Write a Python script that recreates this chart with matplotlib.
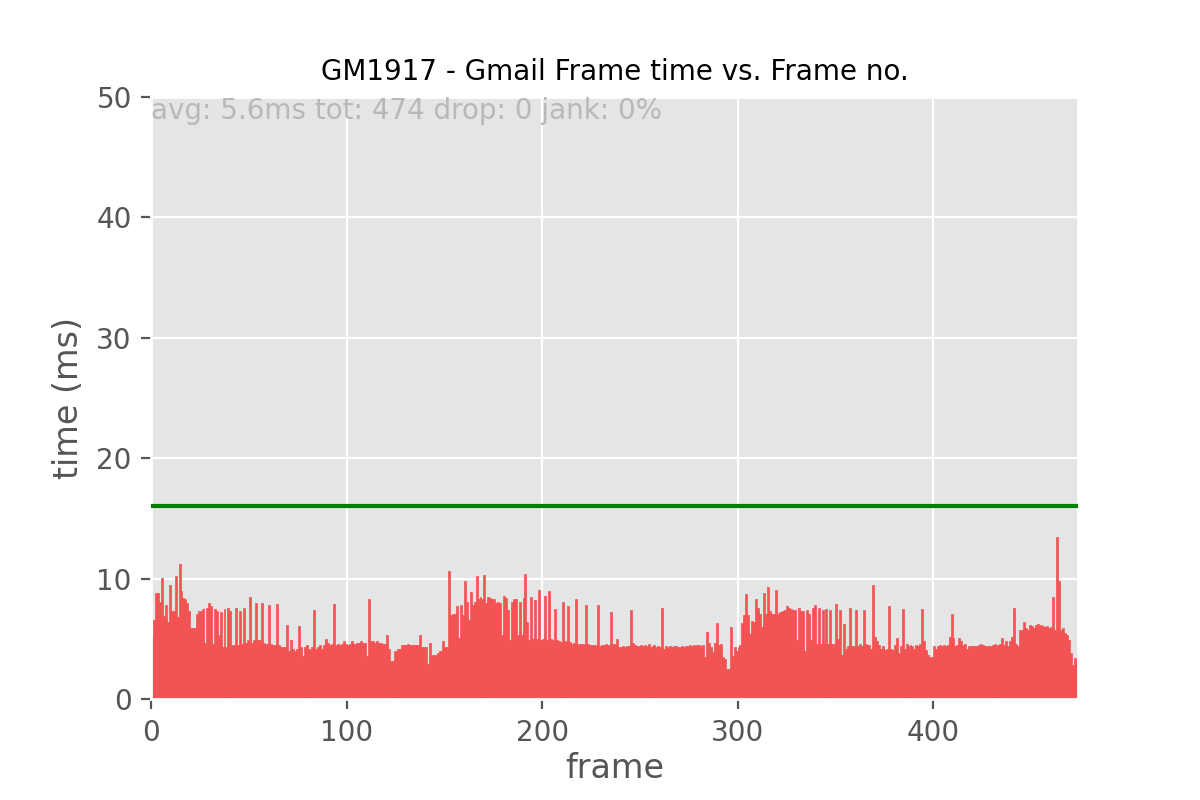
import matplotlib
matplotlib.use("Agg")
import matplotlib.pyplot as plt

plt.style.use("ggplot")

title = "GM1917 - Gmail Frame time vs. Frame no."
stats_text = "avg: 5.6ms tot: 474 drop: 0 jank: 0%"
x_label = "frame"
y_label = "time (ms)"
threshold_ms = 16.0
x_ticks = [0, 100, 200, 300, 400]
y_ticks = [0, 10, 20, 30, 40, 50]

frame_times = [
    5.2, 6.6, 8.8, 8.8, 8.1, 10.1, 6.9, 7.8, 6.4, 9.5,
    7.3, 7.3, 10.2, 6.8, 11.2, 9.0, 8.4, 8.3, 8.0, 7.3,
    5.9, 5.9, 5.9, 7.1, 7.3, 7.3, 7.5, 4.7, 7.6, 8.0,
    7.7, 4.6, 7.5, 7.3, 5.3, 7.2, 4.3, 7.5, 4.3, 7.6,
    7.3, 4.5, 4.5, 7.6, 4.5, 7.3, 4.6, 7.6, 4.7, 4.9,
    8.5, 4.7, 4.9, 8.0, 4.9, 4.9, 8.0, 4.7, 4.6, 4.6,
    7.8, 4.6, 4.5, 4.5, 7.9, 4.5, 4.3, 4.3, 4.3, 6.2,
    4.0, 4.9, 4.2, 4.0, 4.2, 6.1, 4.3, 3.6, 4.3, 4.5,
    4.2, 4.0, 4.3, 7.4, 4.2, 4.3, 4.5, 4.2, 4.5, 5.0,
    4.7, 4.5, 4.6, 7.9, 4.5, 4.6, 4.5, 4.6, 4.8, 4.6,
    4.5, 4.6, 4.8, 4.6, 4.6, 4.7, 4.7, 4.8, 4.7, 4.7,
    3.6, 8.3, 4.8, 4.8, 4.7, 4.8, 4.7, 4.7, 4.6, 4.6,
    5.3, 4.2, 3.2, 3.2, 4.0, 4.0, 4.2, 4.2, 4.5, 4.5,
    4.5, 4.6, 4.5, 4.5, 4.5, 4.5, 4.5, 5.3, 4.3, 4.3,
    4.3, 2.9, 4.7, 3.7, 3.7, 3.7, 3.8, 4.0, 4.0, 4.8,
    4.3, 4.3, 10.6, 7.0, 7.1, 7.1, 7.7, 5.1, 7.8, 7.0,
    9.8, 8.1, 6.6, 8.9, 7.8, 8.1, 10.2, 8.3, 8.5, 8.3,
    10.3, 8.0, 8.5, 8.4, 8.3, 8.3, 8.0, 8.1, 8.0, 5.3,
    8.6, 8.4, 7.4, 4.9, 8.1, 8.3, 8.3, 5.3, 8.1, 5.3,
    8.4, 10.4, 6.4, 4.9, 8.5, 5.0, 8.2, 5.0, 9.1, 4.9,
    5.0, 8.6, 4.9, 9.0, 5.0, 4.9, 7.5, 4.9, 4.8, 4.75,
    8.1, 4.8, 4.75, 7.7, 4.75, 4.6, 4.7, 8.3, 4.6, 4.6,
    4.55, 4.55, 7.8, 4.55, 4.5, 4.5, 4.5, 4.5, 7.8, 4.4,
    4.5, 4.5, 4.55, 4.5, 4.5, 7.2, 4.6, 4.6, 5.0, 4.3,
    4.3, 4.4, 4.3, 4.4, 4.4, 7.4, 4.7, 4.5, 4.4, 4.4,
    4.5, 4.4, 4.5, 4.4, 4.6, 4.3, 4.4, 4.5, 4.3, 4.4,
    4.3, 7.6, 4.2, 4.4, 4.3, 4.4, 4.3, 4.4, 4.4, 4.3,
    4.3, 4.4, 4.3, 4.4, 4.4, 4.5, 4.4, 4.5, 4.4, 4.5,
    4.5, 4.4, 4.5, 3.5, 5.6, 4.7, 4.3, 3.9, 4.7, 6.3,
    4.5, 4.6, 3.5, 3.3, 2.5, 2.5, 6.0, 3.6, 4.3, 4.0,
    4.3, 4.5, 6.3, 7.0, 8.7, 7.0, 5.4, 6.5, 6.4, 8.3,
    7.6, 7.1, 6.0, 8.8, 7.1, 9.3, 7.3, 7.1, 7.1, 9.1,
    7.1, 7.2, 7.2, 7.3, 7.4, 7.7, 7.6, 7.5, 7.4, 7.4,
    4.9, 7.6, 7.3, 7.3, 4.0, 7.4, 7.1, 4.9, 7.6, 7.8,
    4.6, 7.6, 4.6, 7.4, 4.6, 7.5, 4.6, 7.4, 4.6, 4.6,
    7.9, 5.0, 7.4, 3.7, 6.25, 4.2, 4.4, 7.6, 4.4, 4.4,
    7.4, 4.4, 4.6, 4.4, 7.4, 4.6, 4.5, 4.5, 4.2, 9.5,
    5.2, 4.8, 4.5, 4.2, 4.4, 4.1, 4.2, 7.75, 4.2, 4.1,
    4.5, 5.05, 3.8, 4.4, 7.5, 4.2, 4.6, 4.4, 4.5, 4.4,
    4.2, 4.5, 4.4, 4.6, 7.5, 4.8, 4.1, 3.7, 3.5, 3.5,
    4.4, 4.2, 4.4, 4.5, 4.4, 4.5, 4.4, 4.5, 5.2, 7.1,
    5.05, 4.4, 4.5, 5.1, 4.8, 4.5, 4.6, 4.2, 4.4, 4.4,
    4.4, 4.4, 4.4, 4.5, 4.6, 4.5, 4.4, 4.4, 4.4, 4.4,
    4.5, 4.6, 4.4, 4.5, 4.6, 5.1, 4.5, 4.8, 4.4, 4.8,
    5.2, 7.55, 4.6, 4.4, 5.75, 5.75, 6.4, 5.9, 5.75, 6.2,
    6.1, 5.9, 6.2, 6.25, 6.0, 6.2, 6.1, 6.0, 6.1, 5.9,
    6.0, 8.5, 5.75, 13.5, 9.8, 5.75, 5.9, 5.5, 5.3, 4.9,
    3.8, 2.8, 3.4, 3.2,
]
frames = list(range(len(frame_times)))

fig = plt.figure(figsize=(6, 4), dpi=200)
ax = fig.add_axes([0.126, 0.126, 0.772, 0.753])

ax.bar(frames, frame_times, width=1.0, align="edge", color="#f65454",
       edgecolor="#f05050", linewidth=0.25, zorder=2)
ax.axhline(threshold_ms, color="green", linewidth=1.5, zorder=3)

ax.set_xlim(0, len(frame_times))
ax.set_ylim(0, 50)
ax.set_xticks(x_ticks)
ax.set_yticks(y_ticks)
ax.tick_params(labelsize=10)
ax.set_title(title, fontsize=10, color="black")
ax.set_xlabel(x_label, fontsize=12, labelpad=2)
ax.set_ylabel(y_label, fontsize=12, labelpad=4)
ax.text(0, 50, stats_text, ha="left", va="top", fontsize=10,
        color="#b8b8b8", zorder=4)

fig.savefig("out.png", dpi=200)
